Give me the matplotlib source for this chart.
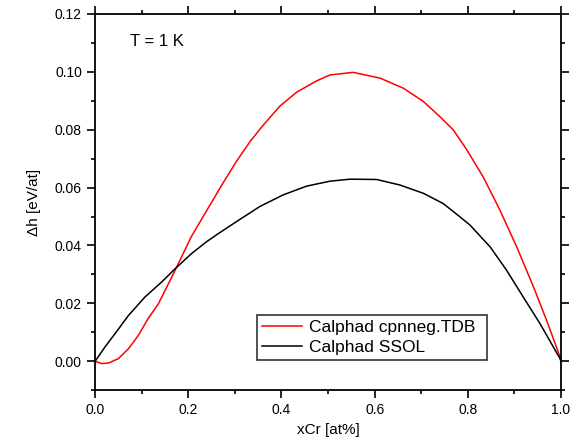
import numpy as np
import matplotlib.pyplot as plt
from matplotlib.ticker import MultipleLocator

plt.rcParams['font.family'] = ['Liberation Sans', 'DejaVu Sans']

# Calphad cpnneg.TDB (red)
x_red = [0.0, 0.014, 0.029, 0.050, 0.072, 0.093, 0.114, 0.136, 0.154, 0.172,
         0.186, 0.207, 0.229, 0.254, 0.275, 0.304, 0.333, 0.361, 0.397, 0.433,
         0.476, 0.504, 0.554, 0.612, 0.662, 0.705, 0.740, 0.769, 0.798, 0.833,
         0.869, 0.905, 0.941, 0.969, 0.998, 1.0]
y_red = [0.0, -0.0008, -0.0006, 0.0009, 0.0044, 0.0090, 0.0148, 0.0199, 0.0257, 0.0315,
         0.0362, 0.0432, 0.0492, 0.0560, 0.0617, 0.0692, 0.0760, 0.0816, 0.0882, 0.0930,
         0.0969, 0.0989, 0.0998, 0.0978, 0.0943, 0.0897, 0.0845, 0.0799, 0.0730, 0.0637,
         0.0522, 0.0395, 0.0257, 0.0142, 0.0015, 0.0]

# Calphad SSOL (black)
x_blk = [0.0, 0.021, 0.043, 0.072, 0.107, 0.143, 0.172, 0.207, 0.236, 0.258,
         0.304, 0.354, 0.404, 0.454, 0.504, 0.547, 0.604, 0.654, 0.705, 0.747,
         0.780, 0.805, 0.848, 0.883, 0.919, 0.955, 0.998, 1.0]
y_blk = [0.0, 0.0049, 0.0096, 0.0159, 0.0222, 0.0274, 0.0320, 0.0372, 0.0409, 0.0434,
         0.0483, 0.0535, 0.0575, 0.0605, 0.0622, 0.0629, 0.0628, 0.0609, 0.0580, 0.0545,
         0.0503, 0.0470, 0.0395, 0.0315, 0.0222, 0.0130, 0.0009, 0.0]

fig = plt.figure(figsize=(5.73, 4.48), dpi=100)
ax = fig.add_axes([0.166, 0.129, 0.813, 0.840])

ax.plot(x_red, y_red, color='red', lw=1.1, label='Calphad cpnneg.TDB')
ax.plot(x_blk, y_blk, color='black', lw=1.1, label='Calphad SSOL')

ax.set_xlim(0.0, 1.0)
ax.set_ylim(-0.01, 0.12)
ax.xaxis.set_major_locator(MultipleLocator(0.2))
ax.xaxis.set_minor_locator(MultipleLocator(0.1))
ax.yaxis.set_major_locator(MultipleLocator(0.02))
ax.yaxis.set_minor_locator(MultipleLocator(0.01))
ax.xaxis.set_major_formatter(plt.FormatStrFormatter('%.1f'))
ax.yaxis.set_major_formatter(plt.FormatStrFormatter('%.2f'))
ax.tick_params(which='both', direction='out', top=True, right=True,
               width=1.2, labelsize=10)
ax.tick_params(which='major', length=6)
ax.tick_params(which='minor', length=3)
for s in ax.spines.values():
    s.set_linewidth(1.3)

ax.set_xlabel('xCr [at%]', fontsize=11)
ax.set_ylabel('Δh [eV/at]', fontsize=11, labelpad=10)
ax.text(0.075, 0.926, 'T = 1 K', transform=ax.transAxes, fontsize=12, va='center')

leg = ax.legend(loc='lower left', bbox_to_anchor=(0.348, 0.08, 0.493, 0.119),
                mode='expand', fontsize=12.5, frameon=True, fancybox=False,
                handlelength=2.3, handletextpad=0.4, borderpad=0.3,
                labelspacing=0.25, borderaxespad=0)
leg.get_frame().set_edgecolor('black')
leg.get_frame().set_linewidth(1.2)

plt.savefig('out.png', dpi=100)
